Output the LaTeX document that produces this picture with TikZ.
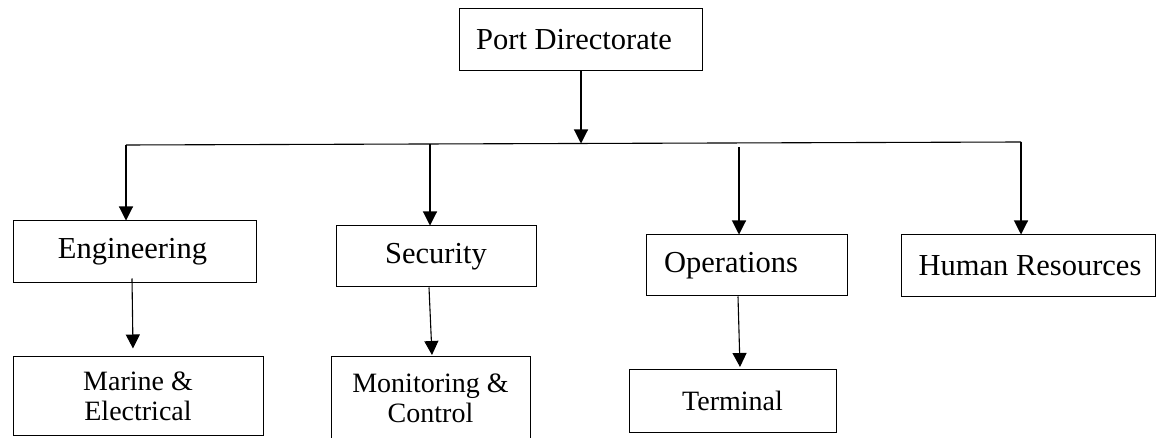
\documentclass[tikz,border=0pt]{standalone}
\usepackage{fontspec}
\setmainfont{Liberation Serif}
\usetikzlibrary{arrows.meta}

\newcommand{\gapr}[1]{\rule{#1}{0pt}}

\tikzset{
  box/.style={draw=black, line width=1pt, rectangle, inner sep=0pt, anchor=center},
  bigtext/.style={font=\fontsize{30.5}{36}\selectfont},
  smalltext/.style={font=\fontsize{28}{30}\selectfont, align=center},
  arr/.style={draw=black, line width=1.1pt, -{Triangle[width=14pt,length=14pt]}},
  wire/.style={draw=black, line width=1.1pt}
}

\begin{document}
\begin{tikzpicture}[x=1pt,y=-1pt]
  \useasboundingbox (0,0) rectangle (1157,438);

  % head of the organisation
  \node[box, bigtext, minimum width=243pt, minimum height=62pt] (port) at (580.5,40) {Port Directorate\gapr{13pt}};

  % departments
  \node[box, bigtext, minimum width=243pt, minimum height=62pt] (eng) at (134.5,252) {Engineering\gapr{4pt}};
  \node[box, bigtext, minimum width=200pt, minimum height=61pt] (sec) at (436,256.5) {Security};
  \node[box, bigtext, minimum width=201pt, minimum height=61pt] (ops) at (746.5,265.5) {Operations\gapr{31pt}};
  \node[box, bigtext, minimum width=254pt, minimum height=62pt] (hr) at (1028,266) {\gapr{4pt}Human Resources};

  % units
  \node[box, smalltext, minimum width=250pt, minimum height=78pt] (mar) at (138,396) {Marine \&\\Electrical};
  \node[box, smalltext, minimum width=199pt, minimum height=83pt] (mon) at (430.5,398.5) {Monitoring \&\\Control};
  \node[box, smalltext, minimum width=207pt, minimum height=62pt] (ter) at (732.5,401) {Terminal};

  % distribution bus
  \coordinate (b1) at (126,145);
  \coordinate (b2) at (430,144.5);
  \coordinate (b3) at (739,147);
  \coordinate (b4) at (1021,142);
  \coordinate (btop) at (581,143.5);
  \draw[wire] (b1) -- (b4);

  \draw[arr] (port.south -| btop) -- (btop);
  \draw[arr] (b1) -- (b1 |- eng.north);
  \draw[arr] (b2) -- (b2 |- sec.north);
  \draw[arr] (b3) -- (b3 |- ops.north);
  \draw[arr] (b4) -- (b4 |- hr.north);

  % department to unit links
  \draw[arr] ([xshift=-2.5pt,yshift=5pt]eng.south) -- ([xshift=-5pt,yshift=8pt]mar.north);
  \draw[arr] ([xshift=-7pt]sec.south) -- ([xshift=1.5pt,yshift=1.5pt]mon.north);
  \draw[arr] ([xshift=-8.5pt]ops.south) -- ([xshift=7.5pt,yshift=2.5pt]ter.north);
\end{tikzpicture}
\end{document}
